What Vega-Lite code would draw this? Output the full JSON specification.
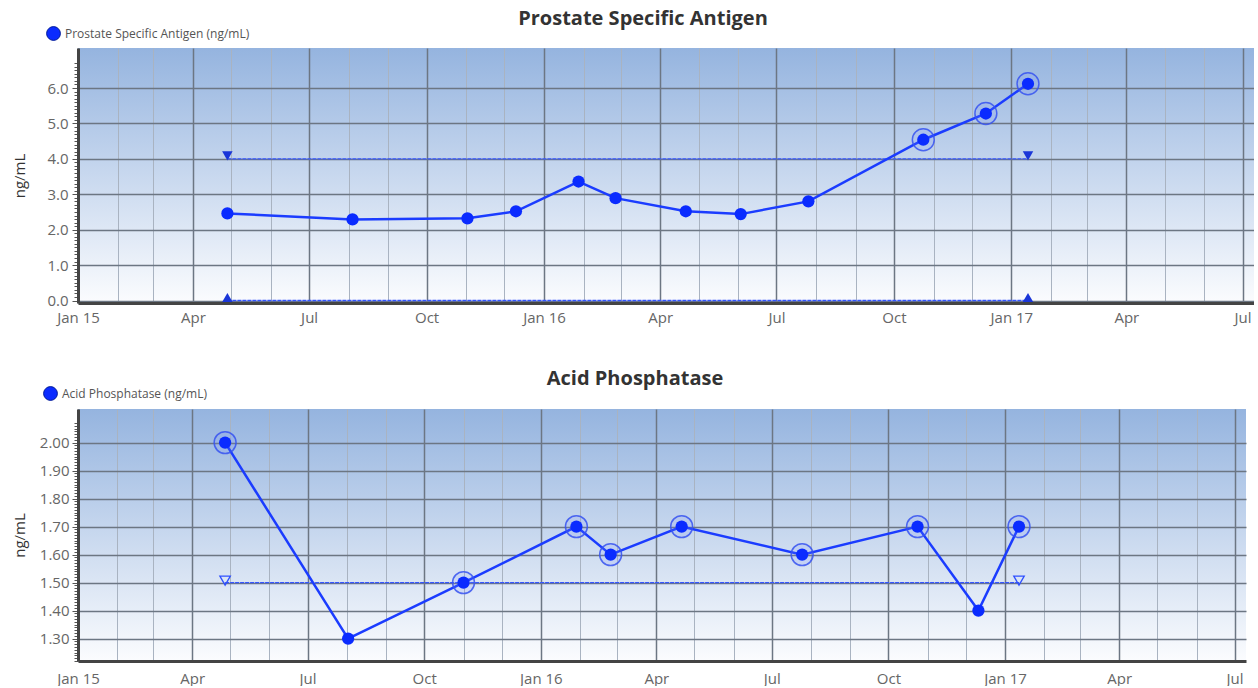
{
  "$schema": "https://vega.github.io/schema/vega-lite/v6.json",
  "background": "white",
  "padding": {"left": 12, "top": 9, "right": 0, "bottom": 0},
  "datasets": {
    "psa": [
      {"date": "2015-04-28", "psa": 2.46},
      {"date": "2015-08-04", "psa": 2.29},
      {"date": "2015-11-02", "psa": 2.32},
      {"date": "2015-12-10", "psa": 2.52},
      {"date": "2016-01-28", "psa": 3.36},
      {"date": "2016-02-26", "psa": 2.89},
      {"date": "2016-04-21", "psa": 2.52},
      {"date": "2016-06-03", "psa": 2.44},
      {"date": "2016-07-26", "psa": 2.8},
      {"date": "2016-10-24", "psa": 4.54},
      {"date": "2016-12-12", "psa": 5.28},
      {"date": "2017-01-14", "psa": 6.12}
    ],
    "psa_range": [
      {"date": "2015-04-28", "limit": 4.0, "kind": "upper"},
      {"date": "2017-01-14", "limit": 4.0, "kind": "upper"},
      {"date": "2015-04-28", "limit": 0.0, "kind": "lower"},
      {"date": "2017-01-14", "limit": 0.0, "kind": "lower"}
    ],
    "acp": [
      {"date": "2015-04-27", "acp": 2.0},
      {"date": "2015-08-02", "acp": 1.3},
      {"date": "2015-11-01", "acp": 1.5},
      {"date": "2016-01-29", "acp": 1.7},
      {"date": "2016-02-25", "acp": 1.6},
      {"date": "2016-04-21", "acp": 1.7},
      {"date": "2016-07-25", "acp": 1.6},
      {"date": "2016-10-24", "acp": 1.7},
      {"date": "2016-12-11", "acp": 1.4},
      {"date": "2017-01-12", "acp": 1.7}
    ],
    "acp_range": [
      {"date": "2015-04-27", "limit": 1.5, "kind": "upper"},
      {"date": "2017-01-12", "limit": 1.5, "kind": "upper"}
    ]
  },
  "config": {
    "font": "Open Sans",
    "view": {"stroke": null},
    "title": {"fontSize": 20, "fontWeight": "bold", "color": "#333333", "anchor": "middle", "offset": -3},
    "axis": {
      "labelFont": "Open Sans",
      "labelFontSize": 15,
      "labelColor": "#666666",
      "titleFont": "Open Sans",
      "titleFontSize": 15,
      "titleFontWeight": "normal",
      "titleColor": "#333333",
      "domainColor": "#444444",
      "domainWidth": 3,
      "labelOverlap": false,
      "labelFlush": false
    },
    "legend": {
      "orient": "none",
      "title": null,
      "labelFontSize": 12,
      "labelLimit": 400,
      "labelColor": "#555555",
      "labelFont": "Open Sans",
      "symbolType": "circle",
      "symbolSize": 190,
      "symbolStrokeColor": "#001a99",
      "symbolStrokeWidth": 1,
      "symbolOpacity": 1
    }
  },
  "columns": 1,
  "align": "none",
  "spacing": 44,
  "resolve": {
    "scale": {"color": "independent", "y": "independent", "x": "independent"},
    "legend": {"color": "independent"}
  },
  "concat": [
    {
      "width": 1176,
      "height": 255,
      "title": {"text": "Prostate Specific Antigen", "dx": -23},
      "view": {
        "stroke": null,
        "fill": {
          "gradient": "linear",
          "x1": 0, "y1": 0, "x2": 0, "y2": 1,
          "stops": [
            {"offset": 0, "color": "#95b4df"},
            {"offset": 1, "color": "#fbfcfe"}
          ]
        }
      },
      "encoding": {
        "x": {
          "field": "date",
          "type": "temporal",
          "scale": {
            "type": "utc",
            "domain": [
              {"year": 2015, "month": 1, "date": 1, "utc": true},
              {"year": 2017, "month": 7, "date": 10, "utc": true}
            ]
          },
          "axis": {
            "title": null,
            "tickCount": {"interval": "month", "step": 1},
            "labelExpr": "utcmonth(datum.value) % 3 == 0 ? (utcmonth(datum.value) == 0 ? utcFormat(datum.value, '%b %y') : utcFormat(datum.value, '%b')) : ''",
            "gridColor": {"condition": {"test": "utcmonth(datum.value) % 3 == 0", "value": "#6c7683"}, "value": "#a9b3c1"},
            "gridWidth": {"condition": {"test": "utcmonth(datum.value) % 3 == 0", "value": 1.5}, "value": 1},
            "tickSize": 0,
            "labelPadding": 7
          }
        }
      },
      "layer": [
        {
          "data": {"name": "psa_range"},
          "mark": {"type": "line", "color": "#3456ff", "strokeWidth": 1.4, "strokeDash": [4, 1]},
          "encoding": {
            "y": {
              "field": "limit",
              "type": "quantitative",
              "scale": {"domain": [-0.07, 7.13], "nice": false, "zero": false},
              "axis": {
                "title": "ng/mL",
                "titlePadding": 19,
                "tickCount": 72,
                "labelExpr": "datum.value < 6.85 && abs(datum.value - round(datum.value)) < 0.001 ? format(datum.value, '.1f') : ''",
                "gridOpacity": {"condition": {"test": "datum.value < 6.85 && abs(datum.value - round(datum.value)) < 0.001", "value": 1}, "value": 0},
                "gridColor": "#6c7683",
                "gridWidth": 1.5,
                "tickOpacity": {"condition": {"test": "datum.value < 6.75", "value": 1}, "value": 0},
                "tickSize": {"condition": {"test": "abs(datum.value - round(datum.value)) < 0.001", "value": 6}, "value": 4},
                "tickColor": "#555555",
                "labelPadding": 4
              }
            },
            "detail": {"field": "kind"}
          }
        },
        {
          "data": {"name": "psa_range"},
          "mark": {"type": "point", "filled": true, "size": 110, "color": "#1a36d8", "opacity": 1, "yOffset": -3},
          "encoding": {
            "y": {"field": "limit", "type": "quantitative"},
            "shape": {
              "field": "kind",
              "scale": {"domain": ["upper", "lower"], "range": ["triangle-down", "triangle-up"]},
              "legend": null
            }
          }
        },
        {
          "data": {"name": "psa"},
          "mark": {"type": "line", "color": "#1b3cff", "strokeWidth": 2.5},
          "encoding": {"y": {"field": "psa", "type": "quantitative"}}
        },
        {
          "data": {"name": "psa"},
          "transform": [{"filter": "datum.psa > 4"}],
          "mark": {"type": "point", "shape": "circle", "size": 480, "filled": false, "stroke": "#3652f0", "strokeWidth": 1.5, "fill": "#6f86ff", "fillOpacity": 0.15, "strokeOpacity": 0.85},
          "encoding": {"y": {"field": "psa", "type": "quantitative"}}
        },
        {
          "data": {"name": "psa"},
          "mark": {"type": "circle", "size": 150, "opacity": 1},
          "encoding": {
            "y": {"field": "psa", "type": "quantitative"},
            "color": {
              "datum": "Prostate Specific Antigen (ng/mL)",
              "scale": {"range": ["#0a2bff"]},
              "legend": {"legendX": -32, "legendY": -22}
            }
          }
        }
      ]
    },
    {
      "width": 1168,
      "height": 252,
      "title": {"text": "Acid Phosphatase", "dx": -27},
      "view": {
        "stroke": null,
        "fill": {
          "gradient": "linear",
          "x1": 0, "y1": 0, "x2": 0, "y2": 1,
          "stops": [
            {"offset": 0, "color": "#95b4df"},
            {"offset": 1, "color": "#fbfcfe"}
          ]
        }
      },
      "encoding": {
        "x": {
          "field": "date",
          "type": "temporal",
          "scale": {
            "type": "utc",
            "domain": [
              {"year": 2015, "month": 1, "date": 1, "utc": true},
              {"year": 2017, "month": 7, "date": 10, "utc": true}
            ]
          },
          "axis": {
            "title": null,
            "tickCount": {"interval": "month", "step": 1},
            "labelExpr": "utcmonth(datum.value) % 3 == 0 ? (utcmonth(datum.value) == 0 ? utcFormat(datum.value, '%b %y') : utcFormat(datum.value, '%b')) : ''",
            "gridColor": {"condition": {"test": "utcmonth(datum.value) % 3 == 0", "value": "#6c7683"}, "value": "#a9b3c1"},
            "gridWidth": {"condition": {"test": "utcmonth(datum.value) % 3 == 0", "value": 1.5}, "value": 1},
            "tickSize": 0,
            "labelPadding": 10
          }
        }
      },
      "layer": [
        {
          "data": {"name": "acp_range"},
          "mark": {"type": "line", "color": "#3456ff", "strokeWidth": 1.4, "strokeDash": [4, 1]},
          "encoding": {
            "y": {
              "field": "limit",
              "type": "quantitative",
              "scale": {"domain": [1.22, 2.12], "nice": false, "zero": false},
              "axis": {
                "title": "ng/mL",
                "titlePadding": 12,
                "tickCount": 90,
                "labelExpr": "datum.value < 2.05 && abs(datum.value * 10 - round(datum.value * 10)) < 0.001 ? format(datum.value, '.2f') : ''",
                "gridOpacity": {"condition": {"test": "datum.value < 2.05 && abs(datum.value * 10 - round(datum.value * 10)) < 0.001", "value": 1}, "value": 0},
                "gridColor": "#6c7683",
                "gridWidth": 1.5,
                "tickOpacity": {"condition": {"test": "datum.value < 2.075", "value": 1}, "value": 0},
                "tickSize": {"condition": {"test": "abs(datum.value * 10 - round(datum.value * 10)) < 0.001", "value": 6}, "value": 4},
                "tickColor": "#555555",
                "labelPadding": 3
              }
            },
            "detail": {"field": "kind"}
          }
        },
        {
          "data": {"name": "acp_range"},
          "mark": {"type": "point", "shape": "triangle-down", "filled": false, "size": 110, "stroke": "#2f50ff", "strokeWidth": 1.3, "opacity": 1, "yOffset": -2},
          "encoding": {"y": {"field": "limit", "type": "quantitative"}}
        },
        {
          "data": {"name": "acp"},
          "mark": {"type": "line", "color": "#1b3cff", "strokeWidth": 2.5},
          "encoding": {"y": {"field": "acp", "type": "quantitative"}}
        },
        {
          "data": {"name": "acp"},
          "transform": [{"filter": "datum.acp >= 1.5"}],
          "mark": {"type": "point", "shape": "circle", "size": 480, "filled": false, "stroke": "#3652f0", "strokeWidth": 1.5, "fill": "#6f86ff", "fillOpacity": 0.15, "strokeOpacity": 0.85},
          "encoding": {"y": {"field": "acp", "type": "quantitative"}}
        },
        {
          "data": {"name": "acp"},
          "mark": {"type": "circle", "size": 150, "opacity": 1},
          "encoding": {
            "y": {"field": "acp", "type": "quantitative"},
            "color": {
              "datum": "Acid Phosphatase (ng/mL)",
              "scale": {"range": ["#0a2bff"]},
              "legend": {"legendX": -35, "legendY": -23}
            }
          }
        }
      ]
    }
  ]
}
